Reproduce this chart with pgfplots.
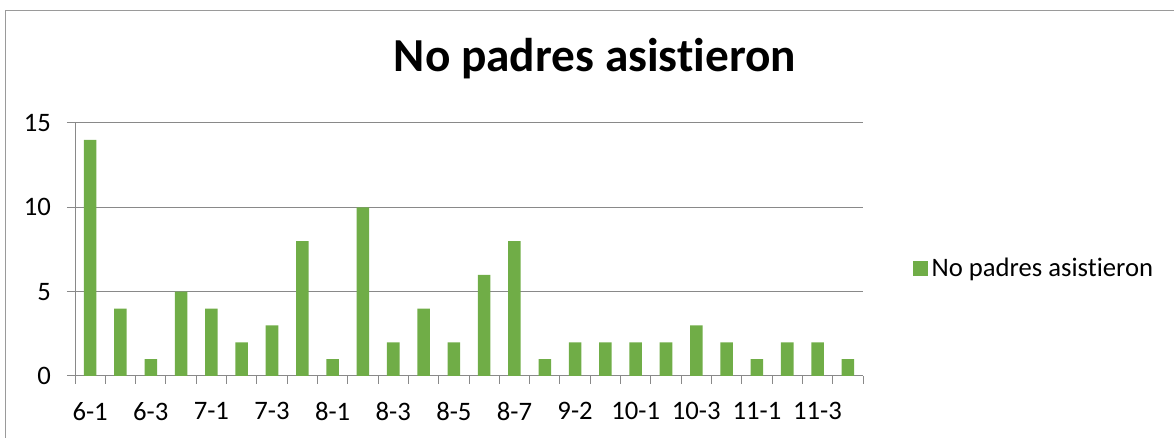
\documentclass[border=0pt]{standalone}
\usepackage{pgfplots}
\pgfplotsset{compat=1.18}
\usepackage{fontspec}
\setmainfont{Carlito}[Ligatures=NoCommon]
\definecolor{bargreen}{HTML}{70AD47}
\definecolor{gridgray}{HTML}{898989}
\definecolor{framegray}{HTML}{9A9A9A}
\begin{document}
\begin{tikzpicture}
\begin{scope}[x=0.75pt,y=0.75pt]
\path[use as bounding box] (0,0) rectangle (1174,438);
\draw[framegray, line width=1.1pt] (5.5,0) -- (5.5,427.5) -- (1174,427.5);
\node[anchor=base, font=\bfseries\fontsize{35.5}{40}\selectfont] at (595,366) {No padres asistieron};
\end{scope}
\begin{axis}[
  at={(56.25pt,46.5pt)}, anchor=south west,
  scale only axis, width=591pt, height=189.75pt,
  ybar, bar width=9.4pt,
  xmin=-0.5, xmax=25.5, ymin=0, ymax=15,
  axis x line*=bottom, axis y line*=left,
  axis line style={gridgray, line width=0.75pt},
  ytick={0,5,10,15},
  ymajorgrids, major grid style={gridgray, line width=0.75pt},
  xtick={-0.5,0.5,...,25.5}, xticklabels={},
  extra x ticks={0,2,...,24},
  extra x tick labels={6-1,6-3,7-1,7-3,8-1,8-3,8-5,8-7,9-2,10-1,10-3,11-1,11-3},
  extra x tick style={major tick length=0pt, grid=none},
  tick align=outside, major tick length=6pt,
  tick style={gridgray, line width=0.75pt},
  ticklabel style={font=\fontsize{20}{24}\selectfont},
  /pgf/number format/assume math mode=true,
  xticklabel style={yshift=-16pt},
  yticklabel style={xshift=-8.5pt},
  legend style={at={(1.0635,0.425)}, anchor=west, draw=none, fill=none,
    inner sep=0pt, font=\fontsize{20}{24}\selectfont,
    nodes={inner sep=2.5pt}},
]
\addplot[fill=bargreen, draw=none,
  legend image code/.code={\fill[bargreen] (0pt,-5.6pt) rectangle (11.25pt,5.6pt);}] coordinates {
(0,14) (1,4) (2,1) (3,5) (4,4) (5,2) (6,3) (7,8) (8,1) (9,10)
(10,2) (11,4) (12,2) (13,6) (14,8) (15,1) (16,2) (17,2) (18,2) (19,2)
(20,3) (21,2) (22,1) (23,2) (24,2) (25,1)};
\addlegendentry{No padres asistieron}
\end{axis}
\end{tikzpicture}
\end{document}
